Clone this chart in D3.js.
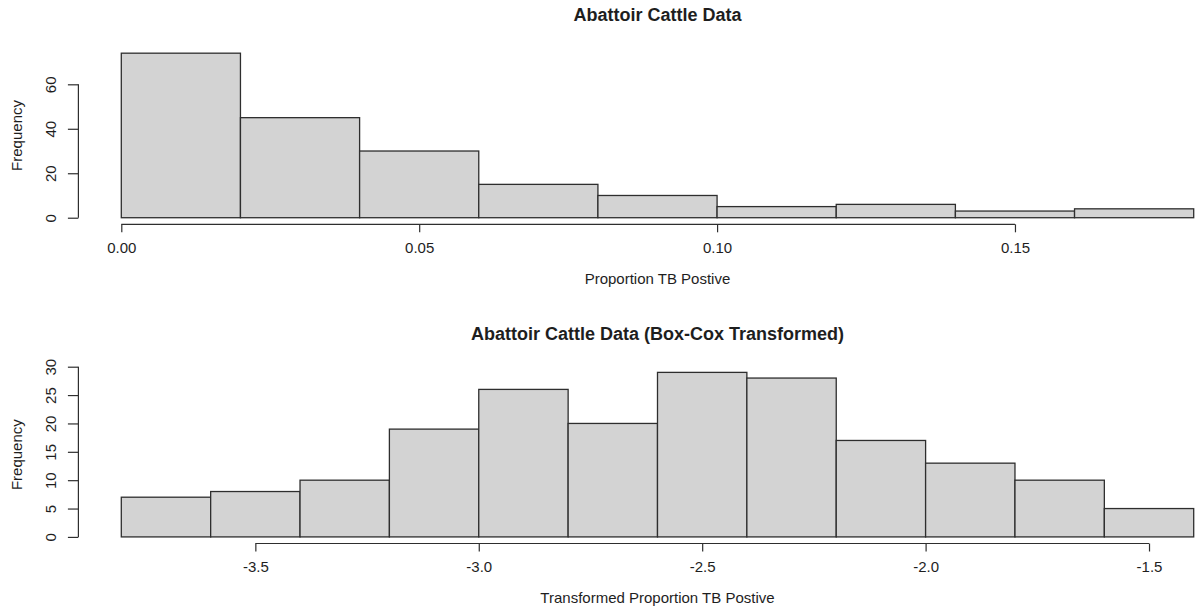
<!DOCTYPE html>
<html>
<head>
<meta charset="utf-8">
<script src="https://cdn.jsdelivr.net/npm/d3@7"></script>
<style>
  html, body { margin: 0; padding: 0; background: #ffffff; }
  svg text { font-family: "Liberation Sans", Arial, Helvetica, sans-serif; fill: #1e1e1e; }
</style>
</head>
<body>
<svg id="chart" width="1203" height="610"></svg>
<script>
// Histogram of the raw proportions
const rawTitle = "Abattoir Cattle Data";
const rawXLabel = "Proportion TB Postive";
const rawBreaks = [0.00, 0.02, 0.04, 0.06, 0.08, 0.10, 0.12, 0.14, 0.16, 0.18];
const rawCounts = [74, 45, 30, 15, 10, 5, 6, 3, 4];
const rawXTicks = [0.00, 0.05, 0.10, 0.15];
const rawXTickLabels = ["0.00", "0.05", "0.10", "0.15"];
const rawYTicks = [0, 20, 40, 60];

// Histogram after the Box-Cox transformation
const bcTitle = "Abattoir Cattle Data (Box-Cox Transformed)";
const bcXLabel = "Transformed Proportion TB Postive";
const bcBreaks = [-3.8, -3.6, -3.4, -3.2, -3.0, -2.8, -2.6, -2.4, -2.2, -2.0, -1.8, -1.6, -1.4];
const bcCounts = [7, 8, 10, 19, 26, 20, 29, 28, 17, 13, 10, 5];
const bcXTicks = [-3.5, -3.0, -2.5, -2.0, -1.5];
const bcXTickLabels = ["-3.5", "-3.0", "-2.5", "-2.0", "-1.5"];
const bcYTicks = [0, 5, 10, 15, 20, 25, 30];

const yLabel = "Frequency";

const svg = d3.select("#chart");

// plot region (R-style: data range padded by 4% on each side)
const plotLeft = 78.4, plotRight = 1236.6, plotHeight = 177.7;
const ink = "#2e2e2e";

function pad(lo, hi) {
  const d = (hi - lo) * 0.04;
  return [lo - d, hi + d];
}

function drawPanel(top, title, xLabel, breaks, counts, xTicks, xTickLabels, yTicks) {
  const bottom = top + plotHeight;
  const x = d3.scaleLinear()
    .domain(pad(breaks[0], breaks[breaks.length - 1]))
    .range([plotLeft, plotRight]);
  const y = d3.scaleLinear()
    .domain(pad(0, d3.max(counts)))
    .range([bottom, top]);

  const g = svg.append("g");

  // bars
  g.append("g").selectAll("rect")
    .data(counts)
    .join("rect")
    .attr("x", (d, i) => x(breaks[i]))
    .attr("y", d => y(d))
    .attr("width", (d, i) => x(breaks[i + 1]) - x(breaks[i]))
    .attr("height", d => y(0) - y(d))
    .attr("fill", "#d3d3d3")
    .attr("stroke", ink)
    .attr("stroke-width", 1.3);

  // x axis
  const xa = g.append("g")
    .attr("transform", `translate(0,${bottom})`)
    .call(d3.axisBottom(x)
      .tickValues(xTicks)
      .tickFormat((d, i) => xTickLabels[i])
      .tickSize(8)
      .tickPadding(9.9));
  xa.select(".domain").remove();
  xa.selectAll(".tick line").attr("stroke", ink).attr("stroke-width", 1.2);
  xa.selectAll(".tick text").attr("font-size", 15).attr("fill", "#1e1e1e");
  xa.append("line")
    .attr("x1", x(xTicks[0])).attr("x2", x(xTicks[xTicks.length - 1]))
    .attr("y1", 0).attr("y2", 0)
    .attr("stroke", ink).attr("stroke-width", 1.2);

  // y axis
  const ya = g.append("g")
    .attr("transform", `translate(${plotLeft},0)`)
    .call(d3.axisLeft(y).tickValues(yTicks).tickFormat(d3.format("d")).tickSize(10.5));
  ya.select(".domain").remove();
  ya.selectAll(".tick line").attr("stroke", ink).attr("stroke-width", 1.2);
  ya.selectAll(".tick text")
    .attr("x", 0).attr("dy", 0)
    .attr("font-size", 15)
    .attr("fill", "#1e1e1e")
    .attr("text-anchor", "middle")
    .attr("transform", "translate(-22.3,0) rotate(-90)");
  ya.append("line")
    .attr("x1", 0).attr("x2", 0)
    .attr("y1", y(yTicks[0])).attr("y2", y(yTicks[yTicks.length - 1]))
    .attr("stroke", ink).attr("stroke-width", 1.2);

  const midX = (plotLeft + plotRight) / 2;
  const midY = (top + bottom) / 2;

  // titles and axis labels
  g.append("text")
    .attr("x", midX).attr("y", top - 25.6)
    .attr("text-anchor", "middle")
    .attr("font-size", 18).attr("font-weight", "bold")
    .attr("fill", "#111")
    .text(title);

  g.append("text")
    .attr("x", midX).attr("y", bottom + 59.7)
    .attr("text-anchor", "middle")
    .attr("font-size", 15)
    .text(xLabel);

  g.append("text")
    .attr("transform", `translate(22,${midY}) rotate(-90)`)
    .attr("text-anchor", "middle")
    .attr("font-size", 15)
    .text(yLabel);
}

drawPanel(46.6, rawTitle, rawXLabel, rawBreaks, rawCounts, rawXTicks, rawXTickLabels, rawYTicks);
drawPanel(365.8, bcTitle, bcXLabel, bcBreaks, bcCounts, bcXTicks, bcXTickLabels, bcYTicks);
</script>
</body>
</html>
